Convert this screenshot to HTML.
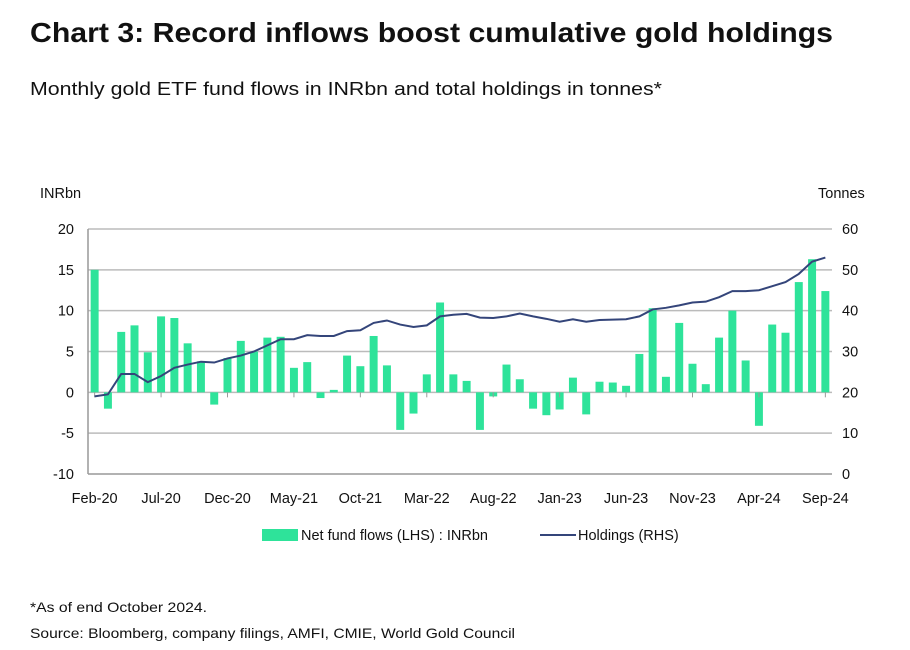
<!DOCTYPE html>
<html><head><meta charset="utf-8"><style>
body{margin:0;background:#fff;font-family:"Liberation Sans","DejaVu Sans",sans-serif;}
#wrap{position:relative;width:910px;height:650px;overflow:hidden}
</style></head><body><div id="wrap">
<svg id="c" width="910" height="650" style="position:absolute;left:0;top:0">
<text x="30" y="42" font-size="28" font-weight="bold" fill="#111" textLength="803" lengthAdjust="spacingAndGlyphs">Chart 3: Record inflows boost cumulative gold holdings</text>
<text x="30" y="95" font-size="18" fill="#111" textLength="632" lengthAdjust="spacingAndGlyphs">Monthly gold ETF fund flows in INRbn and total holdings in tonnes*</text>
<text x="30" y="612" font-size="14" fill="#111" textLength="177" lengthAdjust="spacingAndGlyphs">*As of end October 2024.</text>
<text x="30" y="638" font-size="14" fill="#111" textLength="485" lengthAdjust="spacingAndGlyphs">Source: Bloomberg, company filings, AMFI, CMIE, World Gold Council</text>
</svg>
</div>
<script>
const months=["Feb-20","Mar-20","Apr-20","May-20","Jun-20","Jul-20","Aug-20","Sep-20","Oct-20","Nov-20","Dec-20","Jan-21","Feb-21","Mar-21","Apr-21","May-21","Jun-21","Jul-21","Aug-21","Sep-21","Oct-21","Nov-21","Dec-21","Jan-22","Feb-22","Mar-22","Apr-22","May-22","Jun-22","Jul-22","Aug-22","Sep-22","Oct-22","Nov-22","Dec-22","Jan-23","Feb-23","Mar-23","Apr-23","May-23","Jun-23","Jul-23","Aug-23","Sep-23","Oct-23","Nov-23","Dec-23","Jan-24","Feb-24","Mar-24","Apr-24","May-24","Jun-24","Jul-24","Aug-24","Sep-24"];
const flows=[15,-2,7.4,8.2,4.9,9.3,9.1,6.0,3.8,-1.5,4.2,6.3,5.0,6.7,6.8,3.0,3.7,-0.7,0.3,4.5,3.2,6.9,3.3,-4.6,-2.6,2.2,11.0,2.2,1.4,-4.6,-0.5,3.4,1.6,-2.0,-2.8,-2.1,1.8,-2.7,1.3,1.2,0.8,4.7,10.3,1.9,8.5,3.5,1.0,6.7,10.0,3.9,-4.1,8.3,7.3,13.5,16.3,12.4];
const holdings=[19,19.5,24.5,24.5,22.5,24,26,26.8,27.5,27.3,28.3,29,30,31.5,33,33,34,33.8,33.8,35,35.2,37,37.6,36.6,36,36.4,38.6,39,39.2,38.3,38.2,38.6,39.3,38.6,38,37.3,37.9,37.3,37.7,37.8,37.9,38.6,40.3,40.7,41.3,42,42.2,43.3,44.8,44.8,45,46,47,49,52,53];
const leftTicks=[20,15,10,5,0,-5,-10];
const rightTicks=[60,50,40,30,20,10,0];
const labelEvery=5;

const svg=document.getElementById('c');const NS="http://www.w3.org/2000/svg";
const X0=88,X1=832,Y0=229,Y1=474;
const bw=(X1-X0)/months.length;
const xc=i=>X0+bw*(i+0.5);
const yL=v=>Y0+(20-v)/30*(Y1-Y0);
const yR=v=>Y0+(60-v)/60*(Y1-Y0);
function el(t,a,txt){const e=document.createElementNS(NS,t);for(const k in a)e.setAttribute(k,a[k]);if(txt!=null)e.textContent=txt;svg.appendChild(e);return e;}
leftTicks.forEach(v=>{
 const g=el('line',{x1:X0,x2:X1,y1:yL(v),y2:yL(v),stroke:v===-10?'#999':'#bbb','stroke-width':1.5});
 
 
 const t=el('text',{x:74,y:yL(v)+5,'text-anchor':'end','font-size':14.5,fill:'#111'},v);
 
 
});
rightTicks.forEach(v=>{
 const t=el('text',{x:842,y:yR(v)+5,'text-anchor':'start','font-size':14.5,fill:'#111'},v);
 
 
});
const ax=el('line',{x1:X0,x2:X0,y1:Y0,y2:Y1,stroke:'#999','stroke-width':1.5});


let t1=el('text',{x:40,y:198,'font-size':14.5,fill:'#111'},'INRbn');


let t2=el('text',{x:818,y:198,'font-size':14.5,fill:'#111'},'Tonnes');


flows.forEach((v,i)=>{
 const y=Math.min(yL(v),yL(0)),h=Math.abs(yL(v)-yL(0));
 const r=el('rect',{x:xc(i)-bw*0.3,y:y,width:bw*0.6,height:h,fill:'#2ee39a'});
 
 
});
months.forEach((m,i)=>{
 if(i%labelEvery===0){
  const t=el('text',{x:xc(i),y:503,'text-anchor':'middle','font-size':14.5,fill:'#111'},m);
  
  
  const k=el('line',{x1:xc(i),x2:xc(i),y1:yL(0),y2:yL(0)+5,stroke:'#999'});
  
  
 }
});
const p=el('polyline',{points:holdings.map((v,i)=>xc(i)+','+yR(v)).join(' '),fill:'none',stroke:'#34457a','stroke-width':2});


const lr=el('rect',{x:262,y:529,width:36,height:12,fill:'#2ee39a'});


const lt=el('text',{x:301,y:540,'font-size':14.5,fill:'#111'},'Net fund flows (LHS) : INRbn');


const ll=el('line',{x1:540,x2:576,y1:535,y2:535,stroke:'#34457a','stroke-width':2});


const lt2=el('text',{x:578,y:540,'font-size':14.5,fill:'#111'},'Holdings (RHS)');


</script></body></html>
